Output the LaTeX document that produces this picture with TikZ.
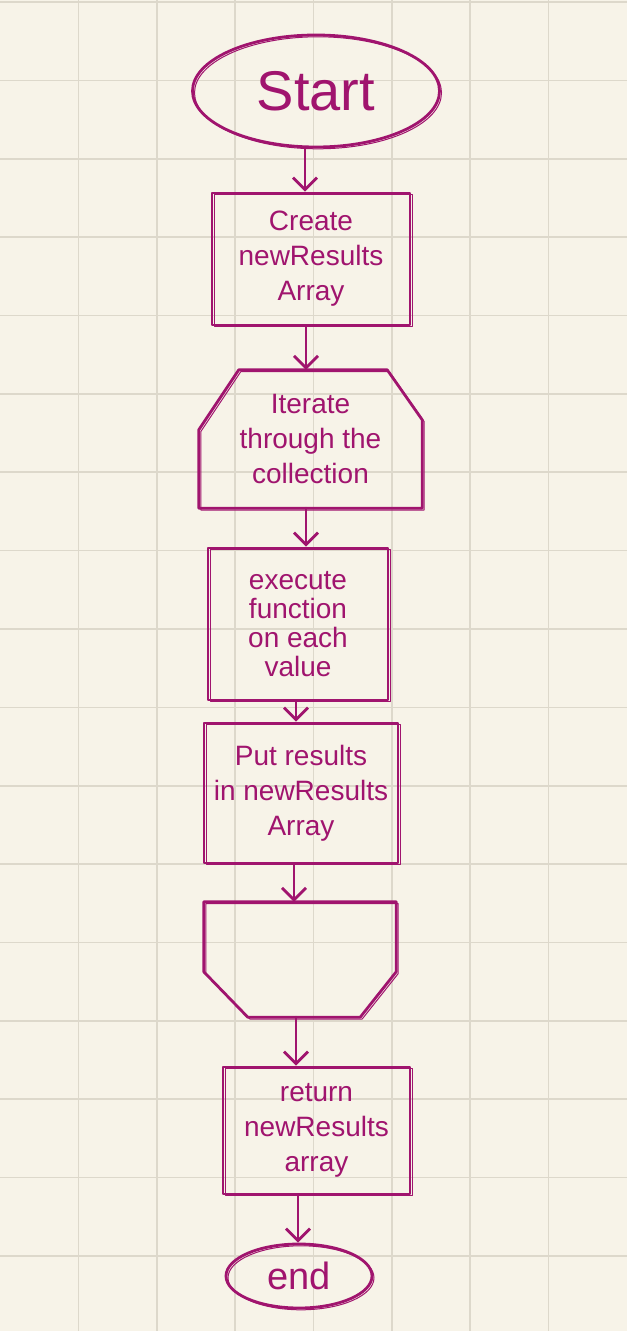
\documentclass[tikz,border=0pt]{standalone}
\usepackage{fontspec}
\setmainfont{Liberation Sans}
\usetikzlibrary{shapes.geometric,arrows.meta,calc}
\definecolor{paper}{HTML}{F7F3E8}
\definecolor{gridc}{HTML}{DDD8CB}
\definecolor{ink}{HTML}{A0146E}
\tikzset{
  gridline/.style={draw=gridc, line width=1.6pt},
  pen/.style={draw=ink, line width=2.8pt, line join=round, line cap=round,
    postaction={draw=ink, line width=1pt, transform canvas={shift={(2pt,-1.8pt)}}}},
  label/.style={text=ink, align=center, inner sep=0pt, font=\fontsize{28}{35}\selectfont},
  stepbox/.style={label, pen, rectangle},
  framebox/.style={label, rectangle, draw=none},
  terminal/.style={label, pen, ellipse, inner sep=0pt},
  flow/.style={draw=ink, line width=2.8pt, line cap=round,
    -{Straight Barb[length=12pt,width=24pt,line width=2.8pt]}}
}
\begin{document}
\begin{tikzpicture}[x=1pt,y=-1pt]
  % paper and squared grid
  \fill[paper] (0,0) rectangle (627,1331);
  \useasboundingbox (0,0) rectangle (627,1331);
  \foreach \i in {1,...,7} \draw[gridline] (\i*78.375,0) -- (\i*78.375,1331);
  \foreach \j in {0,...,16} \draw[gridline] (0,2+\j*78.375) -- (627,2+\j*78.375);

  % flowchart nodes
  \node[terminal, minimum width=247pt, minimum height=112pt,
        font=\fontsize{56}{56}\selectfont] (start) at (316,91) {\raisebox{-6pt}{Start}};
  \node[stepbox, minimum width=198pt, minimum height=132pt] (create) at (311,259)
    {Create\\newResults\\Array};
  \node[framebox, minimum width=223pt, minimum height=138pt] (iter) at (310.5,439)
    {Iterate\\through the\\collection};
  \node[stepbox, minimum width=180pt, minimum height=152pt,
        font=\fontsize{28}{29}\selectfont] (exec) at (298,624)
    {execute\\function\\on each\\value};
  \node[stepbox, minimum width=194pt, minimum height=140pt] (put) at (301,793)
    {Put results\\in newResults\\Array};
  \node[framebox, minimum width=192pt, minimum height=115pt] (lend) at (300,959.5) {};
  \node[stepbox, minimum width=187pt, minimum height=127pt] (ret) at (316.5,1130.5)
    {return\\newResults\\array};
  \node[terminal, minimum width=146pt, minimum height=64pt,
        font=\fontsize{38}{38}\selectfont] (end) at (299,1276) {end};

  % loop limit outlines
  \draw[pen] ($(iter.north west)+(40,0)$) -- ($(iter.north east)+(-35,0)$)
    -- ($(iter.north east)+(0,50)$) -- (iter.south east) -- (iter.south west)
    -- ($(iter.north west)+(0,60)$) -- cycle;
  \draw[pen] (lend.north west) -- (lend.north east) -- ($(lend.north east)+(0,70)$)
    -- ($(lend.south east)+(-36,0)$) -- ($(lend.south west)+(44,0)$)
    -- ($(lend.north west)+(0,70)$) -- cycle;

  % connectors
  \draw[flow] ([xshift=-11pt]start.south) -- ([xshift=-11pt]start.south |- create.north);
  \draw[flow] ([xshift=-5pt]create.south) -- ([xshift=-5pt]create.south |- iter.north);
  \draw[flow] ([xshift=-4.5pt]iter.south) -- ([xshift=-4.5pt]iter.south |- exec.north);
  \draw[flow] ([xshift=-2pt]exec.south) -- ([xshift=-2pt]exec.south |- put.north);
  \draw[flow] ([xshift=-7pt]put.south) -- ([xshift=-7pt]put.south |- lend.north);
  \draw[flow] ([xshift=-4pt]lend.south) -- ([xshift=-4pt]lend.south |- ret.north);
  \draw[flow] ([xshift=-18.5pt]ret.south) -- ([xshift=-18.5pt]ret.south |- end.north);
\end{tikzpicture}
\end{document}
